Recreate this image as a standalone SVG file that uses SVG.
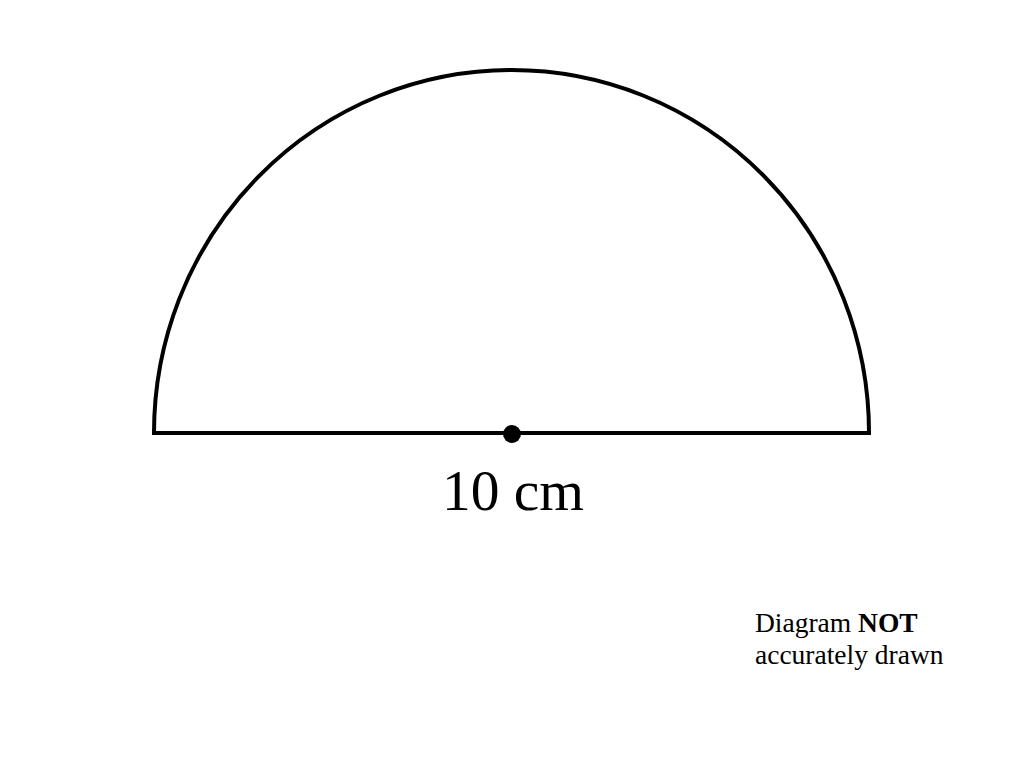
<svg xmlns="http://www.w3.org/2000/svg" width="1024" height="765" viewBox="0 0 1024 765">
<style>
.shape{fill:none;stroke:#000;stroke-width:4;stroke-linejoin:miter}
.t{font-family:"Liberation Serif","Times New Roman",serif;fill:#000}
</style>
<rect width="1024" height="765" fill="#fff"/>
<g id="semicircle">
<path class="shape" d="M154 433 A357.5 363 0 0 1 869 433 Z"/>
<circle cx="512" cy="434" r="9" fill="#000"/>
</g>
<g id="labels">
<text class="t" x="513" y="510" font-size="57.5" text-anchor="middle">10 cm</text>
<text class="t" x="755" y="632" font-size="27.5">Diagram <tspan font-weight="bold">NOT</tspan></text>
<text class="t" x="755" y="664" font-size="27.5">accurately drawn</text>
</g>
</svg>
